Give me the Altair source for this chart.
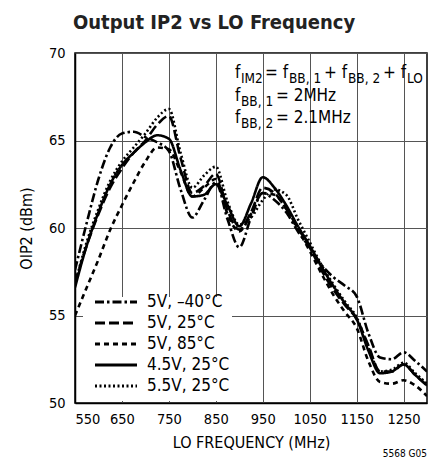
import altair as alt
import pandas as pd

FONT = "DejaVu Sans Condensed, Liberation Sans, sans-serif"

freq = [550, 575, 600, 625, 650, 675, 700, 725, 750, 775, 800, 825, 850, 875, 900,
        925, 950, 975, 1000, 1025, 1050, 1075, 1100, 1125, 1150, 1175, 1200, 1225,
        1250, 1275, 1300]

oip2_5v_m40 = [57.6, 60.3, 62.8, 64.6, 65.4, 65.5, 65.2, 64.9, 64.4, 62.2, 60.6, 61.6,
               62.6, 60.5, 58.9, 60.6, 62.0, 61.6, 60.9, 59.8, 58.9, 57.9, 57.2, 56.7,
               56.1, 54.0, 52.6, 52.5, 52.9, 52.4, 51.8]
oip2_5v_25 = [56.9, 59.0, 60.8, 62.3, 63.4, 64.3, 65.0, 65.9, 66.4, 64.0, 62.0, 62.4,
              63.1, 61.0, 59.9, 60.9, 62.3, 62.0, 61.1, 60.0, 58.9, 57.6, 56.5, 55.6,
              54.8, 53.3, 51.8, 51.8, 52.2, 51.6, 51.0]
oip2_5v_85 = [55.0, 56.6, 58.2, 59.9, 61.3, 62.6, 63.8, 64.6, 64.5, 63.2, 61.8, 62.3,
              62.8, 60.8, 59.8, 60.8, 62.0, 61.9, 61.1, 59.9, 58.7, 57.4, 56.2, 55.2,
              54.3, 52.4, 51.2, 51.1, 51.3, 51.0, 50.4]
oip2_45v_25 = [56.6, 59.0, 60.9, 62.5, 63.6, 64.3, 64.9, 65.3, 65.1, 63.3, 61.8, 61.9,
               62.5, 61.3, 60.1, 61.4, 62.9, 62.3, 61.3, 60.1, 59.0, 57.8, 56.7, 55.7,
               54.8, 53.0, 51.7, 51.8, 52.2, 51.6, 51.0]
oip2_55v_25 = [56.8, 59.2, 61.1, 62.7, 63.8, 64.6, 65.4, 66.3, 66.8, 64.3, 62.3, 63.0,
               63.5, 61.5, 60.2, 60.6, 61.6, 62.2, 61.9, 60.5, 59.2, 57.9, 56.8, 55.8,
               54.9, 53.2, 51.8, 51.9, 52.3, 51.7, 51.1]

series_names = ["5V, –40°C", "5V, 25°C", "5V, 85°C", "4.5V, 25°C", "5.5V, 25°C"]
series_values = [oip2_5v_m40, oip2_5v_25, oip2_5v_85, oip2_45v_25, oip2_55v_25]
dashes = [[9, 3, 2.5, 3], [10, 4], [5, 4], [1, 0], [2, 2.5]]

x_ticks = [550, 650, 750, 850, 950, 1050, 1150, 1250]
y_ticks = [50, 55, 60, 65, 70]

rows = []
for name, vals in zip(series_names, series_values):
    for f, v in zip(freq, vals):
        rows.append({"freq": f, "oip2": v, "series": name})
df = pd.DataFrame(rows)

one = pd.DataFrame({"k": [0]})

box = alt.Chart(one).mark_rect(fill="white").encode(
    x=alt.value(8), x2=alt.value(157), y=alt.value(244), y2=alt.value(348))

lines = alt.Chart(df).mark_line(color="black", strokeWidth=2.6, interpolate="monotone",
                                clip=True).encode(
    x=alt.X("freq:Q", title="LO FREQUENCY (MHz)",
            scale=alt.Scale(domain=[550, 1300], nice=False, zero=False),
            axis=alt.Axis(values=x_ticks, format="d", ticks=False, labelPadding=9,
                          titlePadding=9, gridColor="#555", gridOpacity=1, gridWidth=1,
                          domainColor="black", domainWidth=1.5)),
    y=alt.Y("oip2:Q", title="OIP2 (dBm)",
            scale=alt.Scale(domain=[50, 70], nice=False, zero=False),
            axis=alt.Axis(values=y_ticks, format="d", ticks=False, labelPadding=10,
                          titlePadding=14, gridColor="#555", gridOpacity=1, gridWidth=1,
                          domainColor="black", domainWidth=1.5)),
    strokeDash=alt.StrokeDash("series:N", scale=alt.Scale(domain=series_names, range=dashes),
                              legend=None),
    detail="series:N",
)

layers = [box, lines]

for i, (name, d) in enumerate(zip(series_names, dashes)):
    yy = 249 + 21 * i
    layers.append(alt.Chart(one).mark_rule(color="black", strokeWidth=3, strokeDash=d).encode(
        x=alt.value(20), x2=alt.value(62), y=alt.value(yy)))
    layers.append(alt.Chart(one).mark_text(align="left", baseline="middle", font=FONT,
                                           fontSize=17, color="black").encode(
        x=alt.value(72), y=alt.value(yy), text=alt.value(name)))

# annotation pieces: (text, x, baseline y)
main_size = 17
sub_size = 13.5
ann_main = [("f", 160, 25), ("= f", 190, 25), ("+ f", 249, 25), ("+ f", 308, 25),
            ("f", 160, 48), ("= 2MHz", 201, 48),
            ("f", 160, 70), ("= 2.1MHz", 201, 70)]
ann_sub = [("IM2", 166, 30), ("BB, 1", 214, 30), ("BB, 2", 273, 30), ("LO", 332, 30),
           ("BB, 1", 166, 53), ("BB, 2", 166, 75)]
for t, x, y in ann_main:
    layers.append(alt.Chart(one).mark_text(align="left", baseline="alphabetic", font=FONT,
                                           fontSize=main_size, color="black").encode(
        x=alt.value(x), y=alt.value(y), text=alt.value(t)))
for t, x, y in ann_sub:
    layers.append(alt.Chart(one).mark_text(align="left", baseline="alphabetic", font=FONT,
                                           fontSize=sub_size, color="black").encode(
        x=alt.value(x), y=alt.value(y), text=alt.value(t)))

layers.append(alt.Chart(one).mark_text(align="right", baseline="alphabetic", font=FONT,
                                       fontSize=10, color="black").encode(
    x=alt.value(352), y=alt.value(404), text=alt.value("5568 G05")))

chart = alt.layer(*layers).properties(
    width=352, height=350,
    background="white",
    title=alt.TitleParams("Output IP2 vs LO Frequency", anchor="start", frame="group",
                          font=FONT, fontSize=20, fontWeight="bold", color="#222",
                          offset=12, dx=-2),
    autosize=alt.AutoSizeParams(type="none"),
    padding={"left": 67, "top": 45, "right": 12, "bottom": 60},
).configure_view(stroke="black", strokeWidth=1.5).configure_axis(
    labelFont=FONT, labelFontSize=14.5, labelColor="black",
    titleFont=FONT, titleFontSize=16, titleColor="black", titleFontWeight="normal",
)

chart.save("out.html", embed_options={"renderer": "svg", "actions": False})
